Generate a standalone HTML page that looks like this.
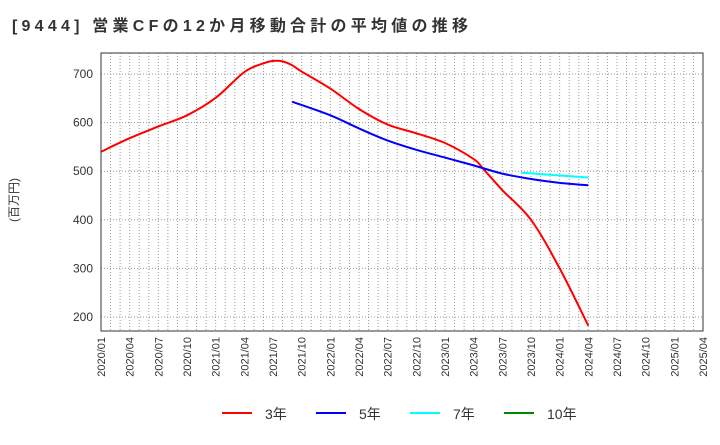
<!DOCTYPE html>
<html><head><meta charset="utf-8"><style>
body{margin:0;background:#fff;font-family:"Liberation Sans","Noto Sans CJK JP",sans-serif}
svg text{font-family:"Liberation Sans","Noto Sans CJK JP",sans-serif}
</style></head><body>
<svg id="c" width="720" height="440" xmlns="http://www.w3.org/2000/svg">
<text x="12" y="31" font-size="16" font-weight="bold" fill="#333" textLength="456" lengthAdjust="spacing">[9444]  営業CFの12か月移動合計の平均値の推移</text>
<text transform="translate(18,200) rotate(-90)" font-size="12" fill="#333" text-anchor="middle">(百万円)</text>
<g id="grid"></g><g id="series"></g><g id="axes"></g>
<g>
<line x1="222" y1="413" x2="252" y2="413" stroke="#f00" stroke-width="2"/><text x="265" y="419" font-size="14" fill="#333">3年</text>
<line x1="316" y1="413" x2="346" y2="413" stroke="#00f" stroke-width="2"/><text x="359" y="419" font-size="14" fill="#333">5年</text>
<line x1="410" y1="413" x2="440" y2="413" stroke="#0ff" stroke-width="2"/><text x="453" y="419" font-size="14" fill="#333">7年</text>
<line x1="504" y1="413" x2="534" y2="413" stroke="#080" stroke-width="2"/><text x="547" y="419" font-size="14" fill="#333">10年</text>
</g>
</svg>
<script>
const xTickLabels=["2020/01","2020/04","2020/07","2020/10","2021/01","2021/04","2021/07","2021/10","2022/01","2022/04","2022/07","2022/10","2023/01","2023/04","2023/07","2023/10","2024/01","2024/04","2024/07","2024/10","2025/01","2025/04"];
const yTicks=[200,300,400,500,600,700];
// month index from 2020/01
const red3M=[0,3,6,9,12,15,17,18,19,20,21,24,27,30,33,36,39,40,42,45,48,51];
const red3V=[540,568,592,615,651,704,722,727,726,718,705,670,628,596,578,558,525,505,461,400,300,182];
const blue5M=[20,24,27,30,33,36,39,42,45,48,51];
const blue5V=[643,615,588,563,544,528,512,495,484,476,471];
const cyan7M=[44,51];
const cyan7V=[497,487];
const X0=101,X1=703,Y0=53,Y1=331;
const xs=m=>X0+(X1-X0)*m/63;
const ys=v=>317+(200-v)*0.486;
const NS="http://www.w3.org/2000/svg";
function mk(t,a,p){const e=document.createElementNS(NS,t);for(const k in a)e.setAttribute(k,a[k]);p.appendChild(e);return e;}
const grid=document.getElementById('grid'),axes=document.getElementById('axes'),ser=document.getElementById('series');
for(let m=1;m<63;m++){const l=mk('line',{x1:xs(m),x2:xs(m),y1:Y0,y2:Y1,stroke:'#999','stroke-width':1,'stroke-dasharray':'1,2'},grid);

}
yTicks.forEach(v=>{const l=mk('line',{x1:X0,x2:X1,y1:ys(v),y2:ys(v),stroke:'#999','stroke-width':1,'stroke-dasharray':'1,2'},grid);


const t=mk('text',{x:X0-8,y:ys(v)+4,'font-size':12,'text-anchor':'end',fill:'#333'},axes);t.textContent=v;

});
xTickLabels.forEach((s,i)=>{const x=xs(i*3);const t=mk('text',{transform:`translate(${x+4},337) rotate(-90)`,'font-size':11,'text-anchor':'end',fill:'#333'},axes);t.textContent=s;

});
const fr=mk('rect',{x:X0,y:Y0,width:X1-X0,height:Y1-Y0,fill:'none',stroke:'#333','stroke-width':1},axes);


function path(M,V){const P=M.map((m,i)=>[xs(m),ys(V[i])]);let d=`M${P[0][0]},${P[0][1]}`;
for(let i=0;i<P.length-1;i++){const p0=P[Math.max(0,i-1)],p1=P[i],p2=P[i+1],p3=P[Math.min(P.length-1,i+2)];
const c1=[p1[0]+(p2[0]-p0[0])/6,p1[1]+(p2[1]-p0[1])/6],c2=[p2[0]-(p3[0]-p1[0])/6,p2[1]-(p3[1]-p1[1])/6];
d+=`C${c1[0]},${c1[1]} ${c2[0]},${c2[1]} ${p2[0]},${p2[1]}`;}return d;}
[[red3M,red3V,'#f00','series-3y'],[blue5M,blue5V,'#00f','series-5y'],[cyan7M,cyan7V,'#0ff','series-7y']].forEach(([M,V,c,n])=>{
const p=mk('path',{d:path(M,V),fill:'none',stroke:c,'stroke-width':2},ser);

});
</script>
</body></html>
